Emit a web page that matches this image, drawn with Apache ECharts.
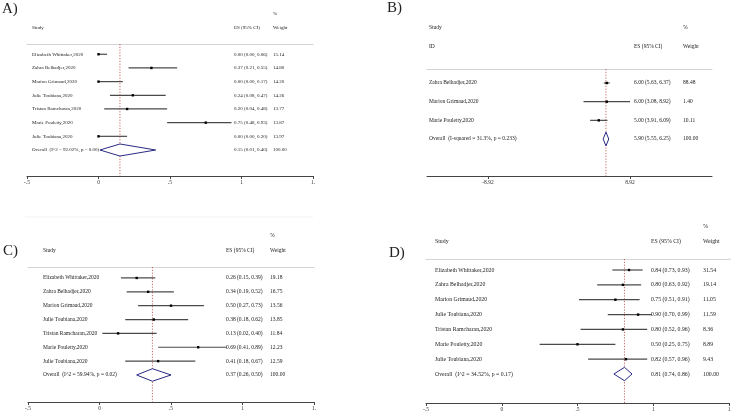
<!DOCTYPE html>
<html><head><meta charset="utf-8">
<script src="https://cdn.jsdelivr.net/npm/echarts@6/dist/echarts.min.js"></script>
<style>html,body{margin:0;padding:0;background:#fff}#c{width:731px;height:414px}</style>
</head><body><div id="c"></div>
<script>
// ---------- DATA ----------
const studiesA = ["Elizabeth Whittaker,2020","Zahra Belhadjer,2020","Marion Grimaud,2020","Julie Toubiana,2020","Tristan Ramcharan,2020","Marie Pouletty,2020","Julie Toubiana,2020","Overall  (I^2 = 92.02%, p = 0.00)"];
const esA = [0.00, 0.37, 0.00, 0.24, 0.20, 0.75, 0.00, 0.15];
const loA = [0.00, 0.21, 0.00, 0.08, 0.04, 0.48, 0.00, 0.01];
const hiA = [0.06, 0.55, 0.17, 0.47, 0.48, 0.93, 0.20, 0.40];
const weightA = [15.14, 14.80, 14.20, 14.26, 13.77, 13.87, 13.97, 100.00];

const studiesB = ["Zahra Belhadjer,2020","Marion Grimaud,2020","Marie Pouletty,2020","Overall  (I-squared = 31.3%, p = 0.233)"];
const esB = [6.00, 6.00, 5.00, 5.90];
const loB = [5.63, 3.08, 3.91, 5.55];
const hiB = [6.37, 8.92, 6.09, 6.25];
const weightB = [88.48, 1.40, 10.11, 100.00];

const studiesC = ["Elizabeth Whittaker,2020","Zahra Belhadjer,2020","Marion Grimaud,2020","Julie Toubiana,2020","Tristan Ramcharan,2020","Marie Pouletty,2020","Julie Toubiana,2020","Overall  (I^2 = 59.94%, p = 0.02)"];
const esC = [0.26, 0.34, 0.50, 0.38, 0.13, 0.69, 0.41, 0.37];
const loC = [0.15, 0.19, 0.27, 0.18, 0.02, 0.41, 0.18, 0.26];
const hiC = [0.39, 0.52, 0.73, 0.62, 0.40, 0.89, 0.67, 0.50];
const weightC = [19.18, 16.75, 13.56, 13.85, 11.84, 12.23, 12.59, 100.00];

const studiesD = ["Elizabeth Whittaker,2020","Zahra Belhadjer,2020","Marion Grimaud,2020","Julie Toubiana,2020","Tristan Ramcharan,2020","Marie Pouletty,2020","Julie Toubiana,2020","Overall  (I^2 = 34.52%, p = 0.17)"];
const esD = [0.84, 0.80, 0.75, 0.90, 0.80, 0.50, 0.82, 0.81];
const loD = [0.73, 0.63, 0.51, 0.70, 0.52, 0.25, 0.57, 0.74];
const hiD = [0.93, 0.92, 0.91, 0.99, 0.96, 0.75, 0.96, 0.86];
const weightD = [31.54, 19.14, 11.05, 11.59, 8.36, 8.89, 9.43, 100.00];

const ticksACD = [-0.5, 0, 0.5, 1, 1.5];
const tickLabelsAC = ["-.5", "0", ".5", "1", "1."];
const tickLabelsD = ["-.5", "0", ".5", "1", "1"];
const ticksB = [-8.92, 8.92];
const tickLabelsB = ["-8.92", "8.92"];

const panelLetters = ["A)", "B)", "C)", "D)"];
const headStudy = "Study", headID = "ID", headES = "ES (95% CI)", headPct = "%", headWeight = "Weight";

// ---------- LAYOUT ----------
const FONT = '"Liberation Serif", "Times New Roman", serif';
const panels = [
  {studies:studiesA, es:esA, lo:loA, hi:hiA, w:weightA, ticks:ticksACD, labels:tickLabelsAC,
   grid:{left:27, top:44, width:286, height:132}, xMin:-0.5, xMax:1.5, yMin:-0.75, yMax:8.9,
   cS:32, cE:234, cW:273, fs:5, dh:0.44},
  {studies:studiesB, es:esB, lo:loB, hi:hiB, w:weightB, ticks:ticksB, labels:tickLabelsB,
   grid:{left:427, top:69, width:285, height:107}, xMin:-16.58, xMax:19.22, yMin:-0.75, yMax:4.98,
   cS:429, cE:634, cW:683, fs:5.5, dh:0.37},
  {studies:studiesC, es:esC, lo:loC, hi:hiC, w:weightC, ticks:ticksACD, labels:tickLabelsAC,
   grid:{left:28, top:267, width:286, height:135}, xMin:-0.5, xMax:1.5, yMin:-0.79, yMax:8.95,
   cS:43, cE:226, cW:270, fs:5.5, dh:0.45},
  {studies:studiesD, es:esD, lo:loD, hi:hiD, w:weightD, ticks:ticksACD, labels:tickLabelsD,
   grid:{left:426, top:259, width:303, height:144}, xMin:-0.5, xMax:1.5, yMin:-0.74, yMax:8.95,
   cS:435, cE:651, cW:703, fs:5.8, dh:0.45}
];

const grids = [], xAxes = [], yAxes = [], series = [];
panels.forEach((p, i) => {
  grids.push(Object.assign({containLabel:false, outerBoundsMode:'none'}, p.grid));
  const fmt = v => { const k = p.ticks.findIndex(t => Math.abs(t - v) < 1e-6); return k >= 0 ? p.labels[k] : ''; };
  xAxes.push({
    type:'value', gridIndex:i, position:'bottom', min:p.xMin, max:p.xMax,
    axisLine:{show:true, onZero:false, lineStyle:{color:'#444', width:1}},
    axisTick:{show:true, customValues:p.ticks, length:3, lineStyle:{color:'#444', width:1}},
    axisLabel:{show:true, customValues:p.ticks, formatter:fmt, margin:4, fontSize:5.5, fontFamily:FONT, color:'#333'},
    splitLine:{show:false}
  });
  xAxes.push({
    type:'value', gridIndex:i, position:'top', min:p.xMin, max:p.xMax,
    axisLine:{show:true, onZero:false, lineStyle:{color:'#d4d4d4', width:1}},
    axisTick:{show:false}, axisLabel:{show:false}, splitLine:{show:false}
  });
  yAxes.push({type:'value', gridIndex:i, inverse:true, min:p.yMin, max:p.yMax, show:false, splitLine:{show:false}});
  const n = p.studies.length;
  const data = p.studies.map((s, r) => [p.es[r], r, p.lo[r], p.hi[r], p.w[r]]);
  series.push({
    type:'custom', xAxisIndex:2*i, yAxisIndex:i, clip:false, silent:true, animation:false,
    data,
    renderItem:(params, api) => {
      const es = api.value(0), row = api.value(1), lo = api.value(2), hi = api.value(3), w = api.value(4);
      const idx = params.dataIndex;
      const pLo = api.coord([lo, row]), pHi = api.coord([hi, row]), pEs = api.coord([es, row]);
      const y = pEs[1];
      const ch = [];
      if (idx === n - 1) {
        const t = api.coord([es, row - p.dh]), b = api.coord([es, row + p.dh]);
        ch.push({type:'polygon', shape:{points:[pLo, t, pHi, b]}, style:{fill:'#fff', stroke:'#2a2a84', lineWidth:1}});
      } else {
        ch.push({type:'line', shape:{x1:pLo[0], y1:y, x2:pHi[0], y2:y}, style:{stroke:'#4a4a4a', lineWidth:1.2}});
        ch.push({type:'rect', shape:{x:pEs[0]-1.2, y:y-1.2, width:2.4, height:2.4}, style:{fill:'#000'}});
      }
      const ts = {fill:'#222', fontSize:p.fs, fontFamily:FONT, align:'left', verticalAlign:'middle'};
      ch.push({type:'text', style:Object.assign({x:p.cS, y, text:p.studies[idx]}, ts)});
      ch.push({type:'text', style:Object.assign({x:p.cE, y, text:`${es.toFixed(2)} (${lo.toFixed(2)}, ${hi.toFixed(2)})`}, ts)});
      ch.push({type:'text', style:Object.assign({x:p.cW, y, text:w.toFixed(2)}, ts)});
      return {type:'group', children:ch};
    }
  });
  const ov = p.es[n - 1];
  series.push({
    type:'line', xAxisIndex:2*i, yAxisIndex:i, silent:true, animation:false, symbol:'none',
    data:[[ov, p.yMin], [ov, p.yMax]],
    lineStyle:{color:'#b8403a', width:0.8, type:[1.2, 1.6]}, z:1
  });
});

function txt(x, y, text, fs, extra) {
  return Object.assign({type:'text', x, y, style:{text, fill:'#222', fontSize:fs, fontFamily:FONT, verticalAlign:'middle', align:'left'}}, extra || {});
}
const graphics = [
  txt(2, 9, panelLetters[0], 15),
  txt(387, 8, panelLetters[1], 15),
  txt(3, 251, panelLetters[2], 15),
  txt(389, 253, panelLetters[3], 15),
  // A headers
  txt(273, 14, headPct, 5), txt(32, 28, headStudy, 5), txt(234, 28, headES, 5), txt(273, 28, headWeight, 5),
  // B headers
  txt(429, 28, headStudy, 5.5), txt(429, 47, headID, 5.5), txt(634, 47, headES, 5.5), txt(683, 28, headPct, 5.5), txt(683, 47, headWeight, 5.5),
  // C headers
  txt(270, 236, headPct, 5.5), txt(43, 251, headStudy, 5.5), txt(226, 251, headES, 5.5), txt(270, 251, headWeight, 5.5),
  // D headers
  txt(703, 226, headPct, 5.8), txt(435, 241, headStudy, 5.8), txt(651, 241, headES, 5.8), txt(703, 241, headWeight, 5.8),
  {type:'line', shape:{x1:25, y1:217, x2:313, y2:217}, style:{stroke:'#f2f2f2', lineWidth:1}},
  {type:'line', shape:{x1:729, y1:259, x2:731, y2:259}, style:{stroke:'#d4d4d4', lineWidth:1}}
];

const chart = echarts.init(document.getElementById('c'), null, {renderer:'canvas'});
chart.setOption({
  animation:false,
  backgroundColor:'#fff',
  grid:grids, xAxis:xAxes, yAxis:yAxes, series, graphic:graphics
});
</script></body></html>
